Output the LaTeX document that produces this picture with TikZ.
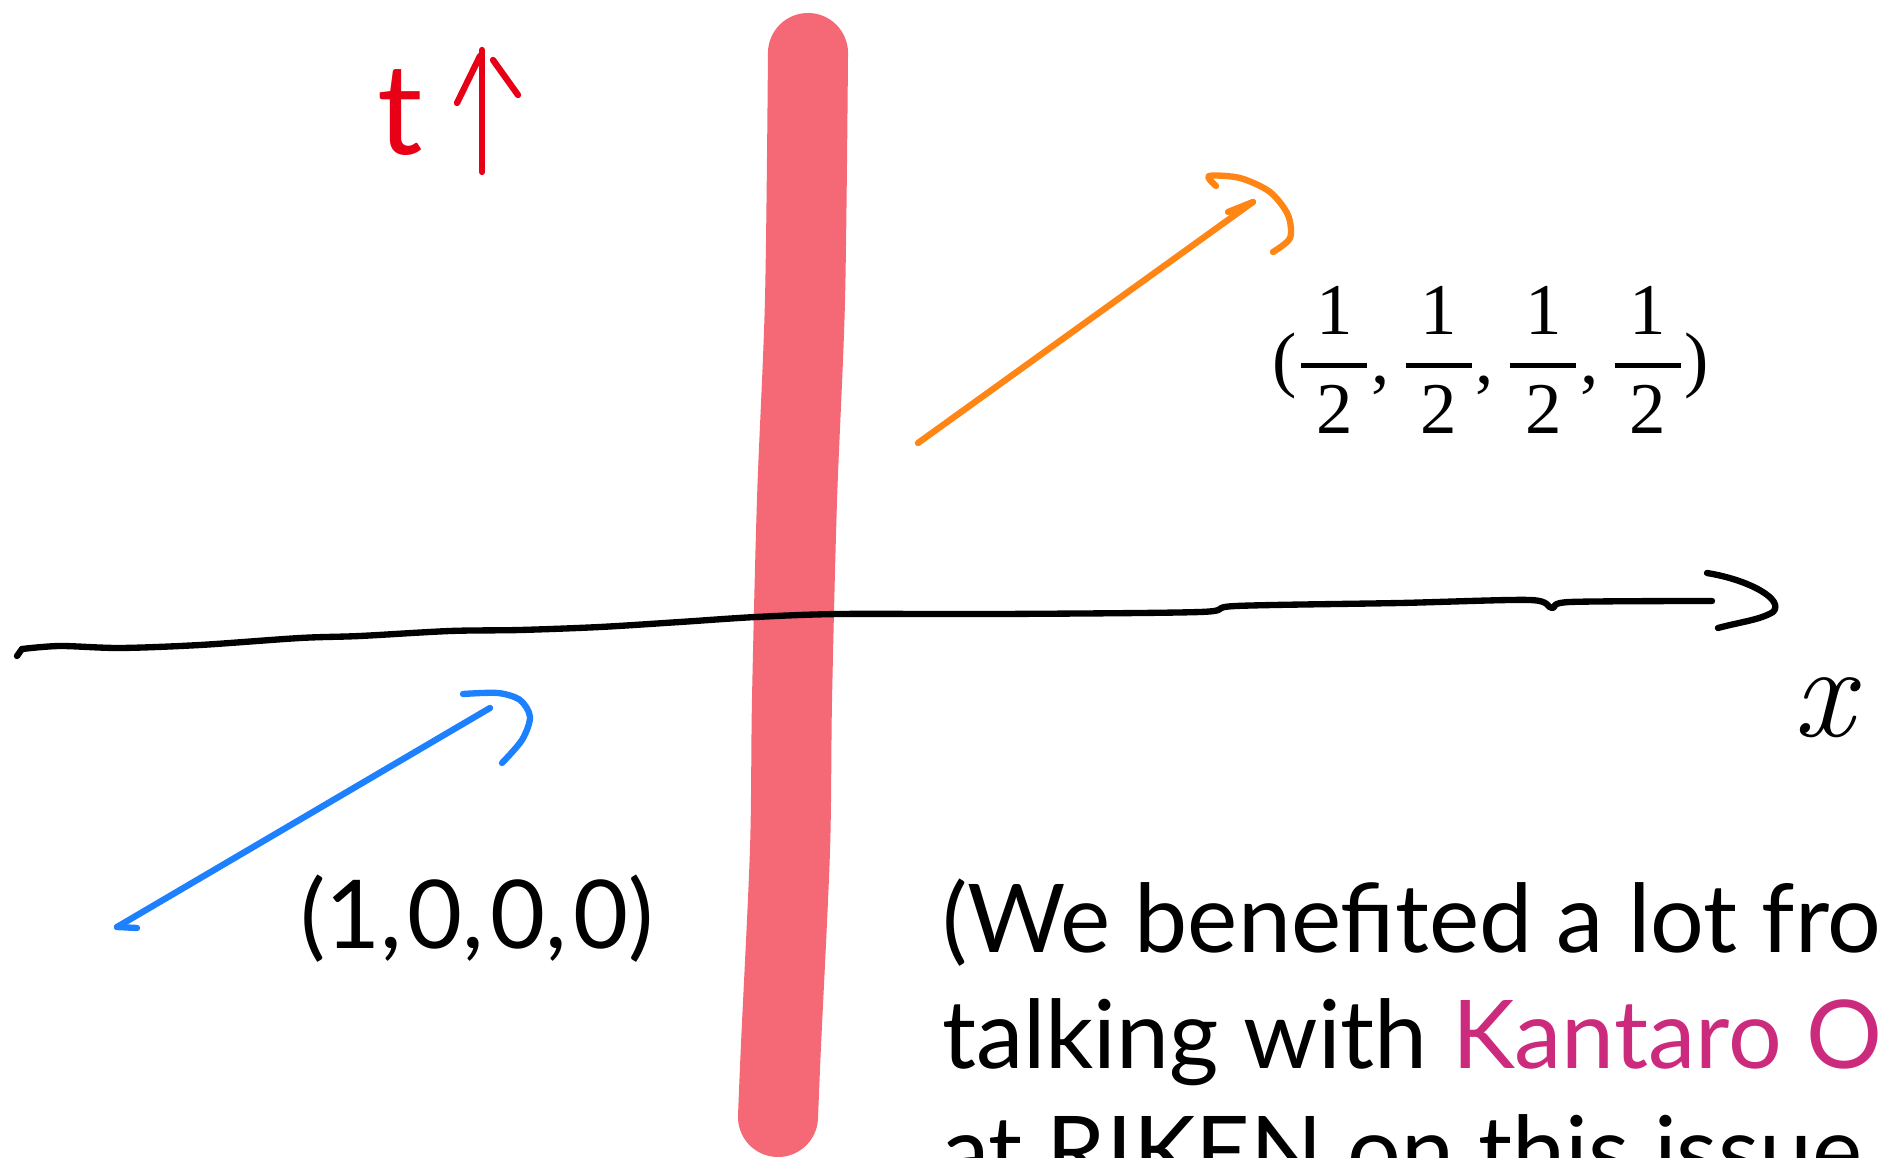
\documentclass[tikz,border=0pt]{standalone}
\usepackage{fontspec}
\newfontfamily\slidefont{Lato}
\newfontfamily\timesfont{Liberation Serif}
\usepackage{xcolor}
\usepackage{tikz}
\usetikzlibrary{positioning, calc}
\definecolor{wallred}{RGB}{245,104,117}
\definecolor{tred}{RGB}{232,0,22}
\definecolor{vecorange}{RGB}{255,133,20}
\definecolor{vecblue}{RGB}{28,128,255}
\definecolor{namepink}{RGB}{204,42,124}
\tikzstyle{pen} = [line cap=round, line join=round]
\tikzstyle{wall} = [pen, wallred, line width=0.8cm]
\tikzstyle{slide} = [font=\slidefont\fontsize{27}{33}\selectfont, anchor=base west]
\newcommand\tm[1]{\hbox{\timesfont #1}}
\newcommand\halfsym{{\tm{\hskip0.2em 1\hskip0.2em}\above1.3pt\tm{\hskip0.2em 2\hskip0.2em}}}

\begin{document}
\begin{tikzpicture}[x=0.01cm, y=-0.01cm, every node/.style={inner sep=0pt, outer sep=0pt}]
\useasboundingbox (0,0) rectangle (1881,1158);
\clip (0,0) rectangle (1881,1158);

% the wall
\draw [wall] plot [smooth] coordinates {(808,53) (805,300) (797,500) (792,700) (790,850) (781,1045) (778,1117)};

% x axis, drawn by hand
\coordinate (xstart) at (22,649);
\coordinate (xend) at (1712,601);
\draw [pen, line width=1.8pt] (xstart) -- (17,656);
\draw [pen, line width=1.8pt] plot [smooth] coordinates {(xstart) (60,646) (120,648) (200,645) (300,638) (360,636) (450,631) (520,630) (600,627) (680,622) (756,617) (840,614) (1000,614) (1200,612) (1236,606) (1400,603) (1530,600) (1552,608) (1570,602) (xend)};
\draw [pen, line width=1.8pt] (1707,573) .. controls (1750,580) and (1785,600) .. (1773,612) .. controls (1760,620) and (1740,622) .. (1718,628);
\node (xlabel) at (1824,708) {\fontsize{38}{40}\selectfont\itshape x};

% time direction
\coordinate (tbot) at (482,172);
\coordinate (ttop) at (482,50);
\draw [pen, tred, line width=1.8pt] (tbot) -- (ttop);
\draw [pen, tred, line width=1.8pt] (457,103) -- (480,56);
\draw [pen, tred, line width=1.8pt] (493,60) -- (518,95);
\node (tlabel) [text=tred, font=\slidefont\fontsize{36}{36}\selectfont, anchor=base] at (400,155) {t};

% orange vector
\coordinate (ostart) at (918,443);
\coordinate (oend) at (1253,202);
\draw [pen, vecorange, line width=1.8pt] (ostart) -- (oend);
\draw [pen, vecorange, line width=1.8pt] (1228,212) -- (oend);
\draw [pen, vecorange, line width=1.8pt] plot [smooth] coordinates {(1216,186) (1209,176) (1240,178) (1270,192) (1288,215) (1290,238) (1273,252)};
\node (halfvec) at (1491,360) {\fontsize{20.74}{24}\selectfont $\displaystyle \tm{(}\halfsym\tm{,\,}\halfsym\tm{,\,}\halfsym\tm{,\,}\halfsym\tm{)}$};

% blue vector
\coordinate (bstart) at (117,927);
\coordinate (bend) at (490,708);
\draw [pen, vecblue, line width=1.8pt] (bstart) -- (bend);
\draw [pen, vecblue, line width=1.8pt] (bstart) -- (137,928);
\draw [pen, vecblue, line width=1.8pt] plot [smooth] coordinates {(463,694) (498,693) (520,700) (530,717) (522,740) (502,763)};
\node (onevec) [slide] at (300,948) {(1,\kern1.7pt 0,\kern1.7pt 0,\kern1.7pt 0)};

% acknowledgement
\node (thanksA) [slide] at (942,952) {(We benefited a lot from};
\node (thanksB) [slide] at (942,1068) {talking with \textcolor{namepink}{Kantaro O}};
\node (thanksC) [slide] at (942,1184) {at RIKEN on this issue};
\end{tikzpicture}
\end{document}
